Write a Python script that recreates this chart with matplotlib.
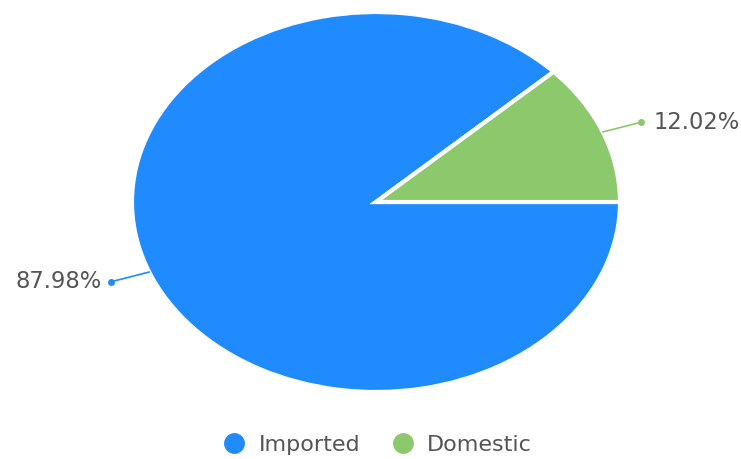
import numpy as np
import matplotlib.pyplot as plt
from matplotlib.lines import Line2D

labels = ["Imported", "Domestic"]
shares = [87.98, 12.02]
colors = ["#1f8bff", "#8cc96c"]

fig = plt.figure(figsize=(7.41, 4.59), dpi=100)
ax = fig.add_axes([0, 0, 1, 1])

# pie is stretched into an ellipse: center (376, 202) px, radii 244 x 190 px
cx, cy, rx, ry = 376, 459 - 202, 244, 190
start = 360 * shares[1] / 100
wedges, _ = ax.pie(shares, colors=colors, startangle=start, radius=1,
                   wedgeprops=dict(edgecolor="white", linewidth=3))
ax.set_aspect("auto")
ax.set_xlim(-cx / rx, (741 - cx) / rx)
ax.set_ylim(-cy / ry, (459 - cy) / ry)
ax.axis("off")

for w, s, c in zip(wedges, shares, colors):
    mid = np.deg2rad((w.theta1 + w.theta2) / 2)
    x0, y0 = np.cos(mid) * 1.0, np.sin(mid) * 1.0
    x1, y1 = np.cos(mid) * 1.17, np.sin(mid) * 1.14
    ax.plot([x0, x1], [y0, y1], color=c, lw=1.2, solid_capstyle="round")
    ax.plot(x1, y1, "o", color=c, ms=4)
    ha = "left" if np.cos(mid) > 0 else "right"
    off = 0.05 if ha == "left" else -0.035
    ax.text(x1 + off, y1, f"{s:.2f}%", ha=ha, va="center",
            fontsize=16.3, color="#555555")

handles = [Line2D([], [], marker="o", ls="", color=c, ms=14) for c in colors]
fig.legend(handles, labels, loc="lower center", bbox_to_anchor=(0.502, -0.035),
           ncol=2, frameon=False, fontsize=16, handletextpad=0.1,
           columnspacing=0.9, labelcolor="#555555")

fig.savefig("out.png", dpi=100)
